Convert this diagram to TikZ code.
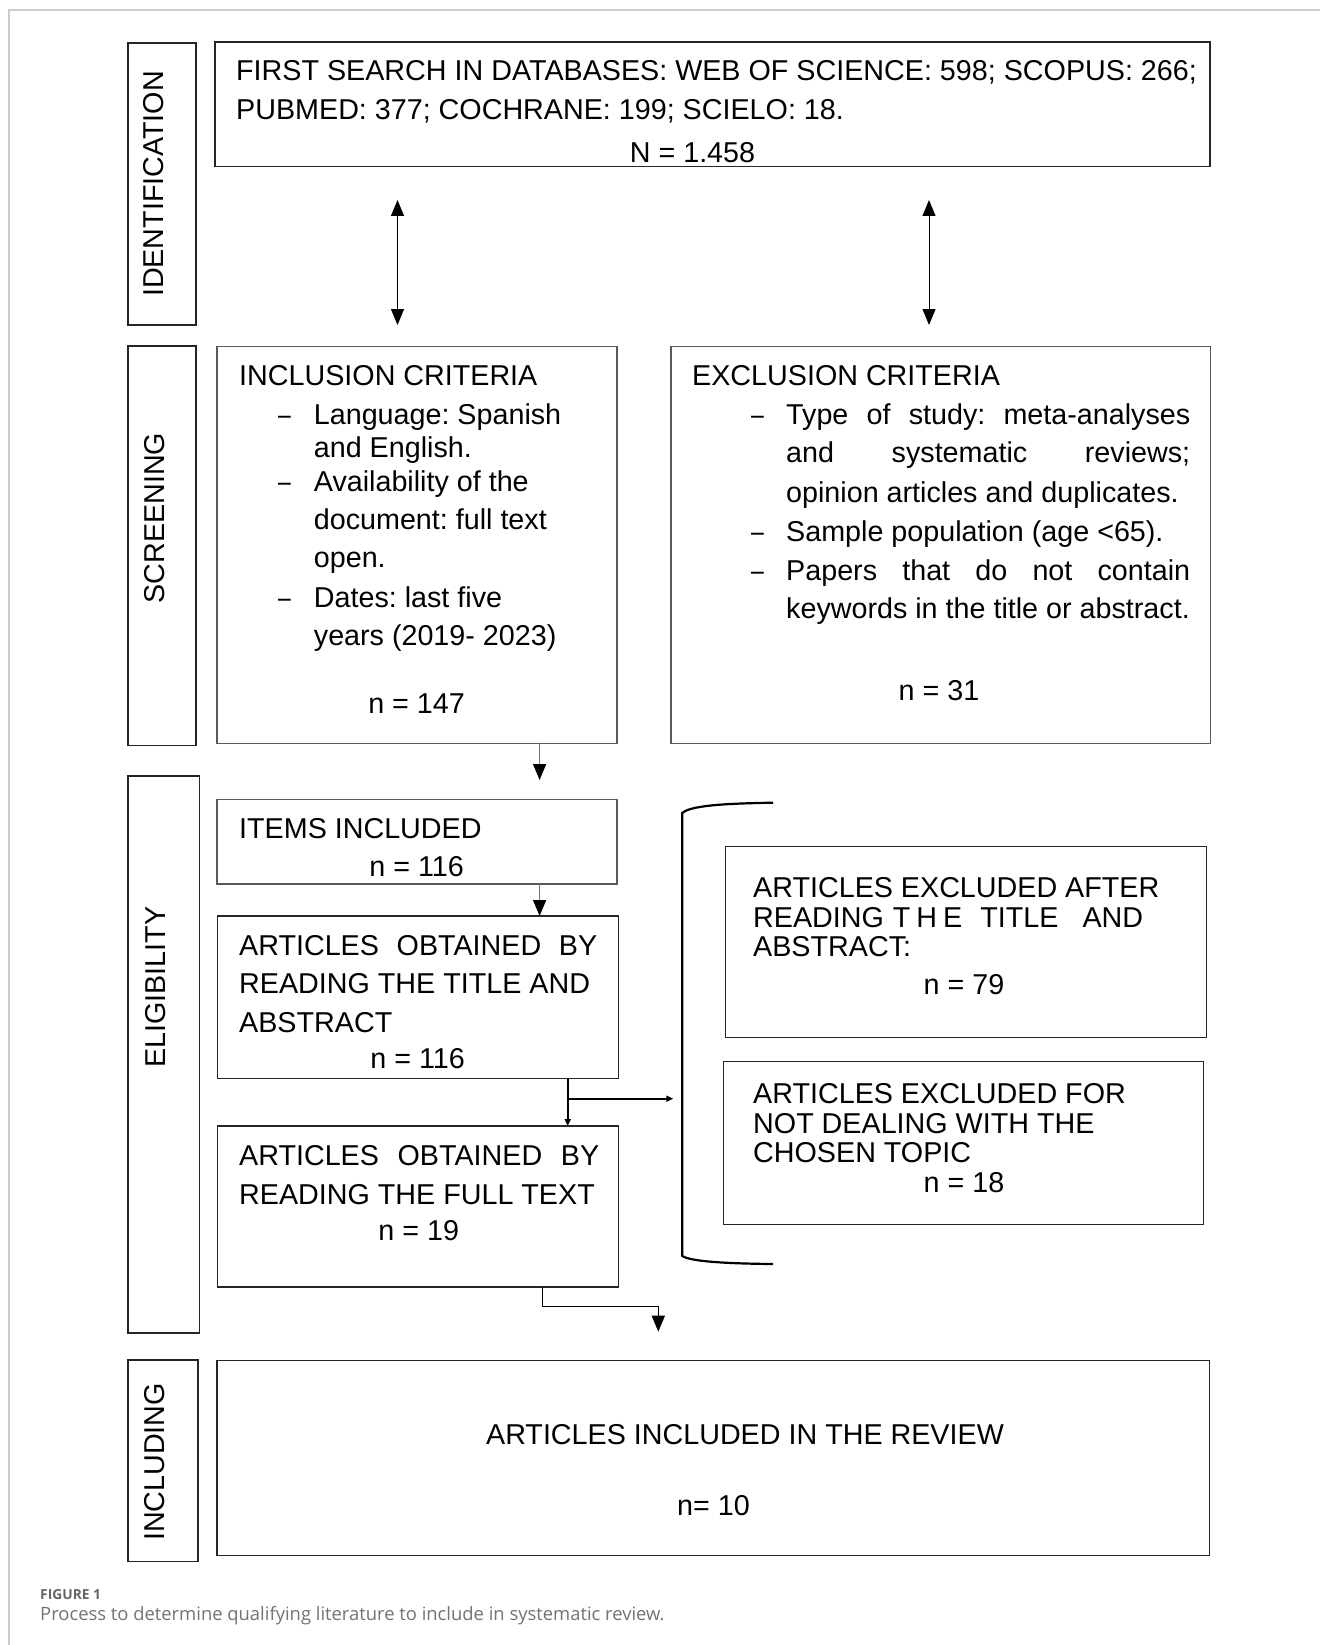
\documentclass[tikz,border=0pt]{standalone}
\usepackage{fontspec}
\setmainfont{Liberation Sans}
\newfontfamily\capfont{Open Sans}
\usetikzlibrary{arrows.meta,fit}
\newcommand\fs{\fontsize{28.7}{34}\selectfont\frenchspacing}
\newcommand\jline[2]{\makebox[#1][s]{#2}}
\newcommand\dsh{\scalebox{0.8}[1]{–}}
\begin{document}
\frenchspacing
\begin{tikzpicture}[x=1pt,y=-1pt,
  box/.style={draw=black!85, line width=1.4pt, inner sep=0pt, outer sep=0pt},
  lbox/.style={draw=black!85, line width=1.6pt, inner sep=0pt, outer sep=0pt},
  txt/.style={font=\fs, inner sep=0pt, anchor=base west},
  ctr/.style={font=\fs, inner sep=0pt, anchor=base},
  vlab/.style={font=\fs, inner sep=0pt, anchor=center, rotate=90},
  bigtip/.style={-{Triangle[width=13pt,length=16pt,color=black]}},
  dbltip/.style={{Triangle[width=13pt,length=16pt]}-{Triangle[width=13pt,length=16pt]}, line width=1pt},
  grayarr/.style={bigtip, draw=black!55, line width=1.4pt},
  thickarr/.style={-{Triangle[width=6pt,length=7pt]}, line width=2.4pt},
  brk/.style={line width=2.2pt}
]
\useasboundingbox (0,0) rectangle (1320,1645);
\fill[white] (0,0) rectangle (1320,1645);
\draw[black!20, line width=1.5pt] (9,1645) -- (9,10) -- (1320,10);

% stage labels
\node[lbox, fit={(128,43) (196,325)}] (idlab) {};
\node[lbox, fit={(128,346) (196,745.5)}] (scrlab) {};
\node[lbox, fit={(128,776) (199.5,1333)}] (elilab) {};
\node[lbox, fit={(128,1360) (198,1561.5)}] (inclab) {};
\node[vlab] (idt) at (154,184) {IDENTIFICATION};
\node[vlab] (scrt) at (155,518) {SCREENING};
\node[vlab] (elit) at (156,987) {ELIGIBILITY};
\node[vlab] (inct) at (155,1462) {INCLUDING};

% boxes
\node[box, fit={(215,42) (1210,166.5)}] (search) {};
\node[box, draw=black!65, fit={(217,346.5) (617,743.3)}] (incl) {};
\node[box, draw=black!65, fit={(671,346.5) (1210.4,743.3)}] (excl) {};
\node[box, draw=black!65, fit={(217,799.3) (617,884)}] (items) {};
\node[box, fit={(217.5,916) (618.7,1078.5)}] (artTA) {};
\node[box, fit={(217.5,1126) (618.7,1287)}] (artFT) {};
\node[box, fit={(725.5,846.5) (1206.5,1037.7)}] (exTA) {};
\node[box, fit={(723.5,1061.5) (1203.7,1224.5)}] (exTopic) {};
\node[box, fit={(217,1360.7) (1209.6,1555.5)}] (review) {};

% search text
\node[txt] (s1) at (236,81) {FIRST SEARCH IN DATABASES: WEB OF SCIENCE: 598; SCOPUS: 266;};
\node[txt] (s2) at (236,120) {PUBMED: 377; COCHRANE: 199; SCIELO: 18.};
\node[ctr] (s3) at (692.5,163) {N = 1.458};

% inclusion
\node[txt] (i0) at (239,385) {INCLUSION CRITERIA};
\node[txt] (id1) at (278,424) {\dsh};
\node[txt] (i1) at (313.7,424) {Language: Spanish};
\node[txt] (i2) at (313.7,457) {and English.};
\node[txt] (id2) at (278,491) {\dsh};
\node[txt] (i3) at (313.7,491) {Availability of the};
\node[txt] (i4) at (313.7,529) {document: full text};
\node[txt] (i5) at (313.7,567) {open.};
\node[txt] (id3) at (278,607) {\dsh};
\node[txt] (i6) at (313.7,607) {Dates: last five};
\node[txt] (i7) at (313.7,645) {years (2019- 2023)};
\node[ctr] (in) at (416.6,713) {n = 147};

% exclusion
\node[txt] (e0) at (692,385) {EXCLUSION CRITERIA};
\node[txt] (ed1) at (751,424) {\dsh};
\node[txt] (e1) at (786,424) {\jline{404pt}{Type of study: meta-analyses}};
\node[txt] (e2) at (786,462) {\jline{404pt}{and systematic reviews;}};
\node[txt] (e3) at (786,502) {opinion articles and duplicates.};
\node[txt] (ed2) at (751,541) {\dsh};
\node[txt] (e4) at (786,541) {Sample population (age <65).};
\node[txt] (ed3) at (751,580) {\dsh};
\node[txt] (e5) at (786,580) {\jline{404pt}{Papers that do not contain}};
\node[txt] (e6) at (786,618) {keywords in the title or abstract.};
\node[ctr] (en) at (939,700) {n = 31};

% items included
\node[txt] (it1) at (239,838) {ITEMS INCLUDED};
\node[ctr] (itn) at (416.6,876) {n = 116};

% articles title/abstract
\node[txt] (a1) at (239,955) {\jline{358pt}{ARTICLES OBTAINED BY}};
\node[txt] (a2) at (239,993) {READING THE TITLE AND};
\node[txt] (a3) at (239,1032) {ABSTRACT};
\node[ctr] (an) at (417.6,1068) {n = 116};

% articles full text
\node[txt] (f1) at (239,1165) {\jline{360pt}{ARTICLES OBTAINED BY}};
\node[txt] (f2) at (239,1204) {READING THE FULL TEXT};
\node[ctr] (fn) at (418.7,1240) {n = 19};

% excluded after title
\node[txt] (x1) at (753,897) {ARTICLES EXCLUDED AFTER};
\node[txt] (x2) at (753,927) {READING\hspace{9pt}T\hspace{6pt}H\hspace{6pt}E\hspace{18pt}TITLE\hspace{24pt}AND};
\node[txt] (x3) at (753,956.5) {ABSTRACT:};
\node[ctr] (xn) at (964,994.5) {n = 79};

% excluded topic
\node[txt] (y1) at (753,1103) {ARTICLES EXCLUDED FOR};
\node[txt] (y2) at (753,1133) {NOT DEALING WITH THE};
\node[txt] (y3) at (753,1162) {CHOSEN TOPIC};
\node[ctr] (yn) at (964,1192) {n = 18};

% review
\node[ctr] (r1t) at (745,1444.5) {ARTICLES INCLUDED IN THE REVIEW};
\node[ctr] (rn) at (713.5,1515) {n= 10};

% double arrows
\coordinate (d1t) at (397.5,200); \coordinate (d1b) at (397.5,325);
\coordinate (d2t) at (929,200); \coordinate (d2b) at (929,325);
\draw[dbltip] (d1t) -- (d1b);
\draw[dbltip] (d2t) -- (d2b);

% inclusion -> items
\coordinate (p1) at (539.6,780);
\draw[grayarr] (incl.south -| p1) -- (p1);
\draw[grayarr] (items.south -| p1) -- (artTA.north -| p1);

% title/abstract -> full text with branch
\coordinate (q) at (567.7,1098.7);
\coordinate (qe) at (673.3,1098.7);
\draw[thickarr] (artTA.south -| q) -- (artFT.north -| q);
\draw[thickarr] (q) -- (qe);

% full text -> review
\coordinate (r1) at (542.7,1306.7);
\coordinate (r2) at (658.3,1331.7);
\draw[bigtip, line width=1.5pt] (artFT.south -| r1) -- (r1) -- (r1 -| r2) -- (r2);

% bracket
\coordinate (bt) at (773,802.7);
\coordinate (bb) at (773,1264);
\draw[brk] (bt) .. controls (720,803.5) and (690,806) .. (682.3,813) -- (682.3,1256) .. controls (690,1261) and (720,1263.5) .. (bb);

% caption
\node[inner sep=0pt, anchor=base west, font=\capfont\bfseries\fontsize{13.8}{16}\selectfont, text=black!60] (figlab) at (40,1599.5) {FIGURE 1};
\node[inner sep=0pt, anchor=base west, font=\capfont\fontsize{18.4}{21}\selectfont, text=black!55] (cap) at (40,1620.5) {Process to determine qualifying literature to include in systematic review.};
\end{tikzpicture}
\end{document}
